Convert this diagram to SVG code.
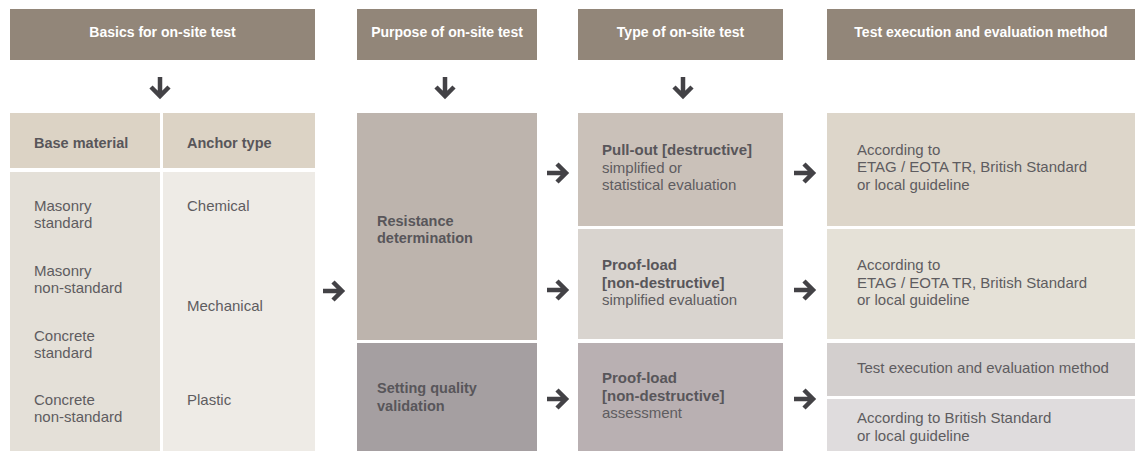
<svg xmlns="http://www.w3.org/2000/svg" width="1135" height="451" viewBox="0 0 1135 451">
<style>
.hd{fill:#928679}
.ht{font-family:"Liberation Sans",Arial,sans-serif;font-size:14px;font-weight:bold;fill:#ffffff;text-anchor:middle}
.b{font-family:"Liberation Sans",Arial,sans-serif;font-size:14.5px;font-weight:bold;fill:#58565a}
.t{font-family:"Liberation Sans",Arial,sans-serif;font-size:15px;fill:#5e5c60}
.tb{font-weight:bold;fill:#58565a}
</style>
<defs>
<path id="ar" d="M-11 0 H8 M-1 -9 L8 0 L-1 9" fill="none" stroke="#434246" stroke-width="4.5" stroke-linejoin="miter"/>
</defs>
<rect width="1135" height="451" fill="#ffffff"/>
<g id="h1"><rect class="hd" x="10" y="9" width="305" height="51"/><text class="ht" x="162.5" y="37">Basics for on-site test</text></g>
<g id="h2"><rect class="hd" x="357" y="9" width="180" height="51"/><text class="ht" x="447" y="37">Purpose of on-site test</text></g>
<g id="h3"><rect class="hd" x="578" y="9" width="205" height="51"/><text class="ht" x="680.5" y="37">Type of on-site test</text></g>
<g id="h4"><rect class="hd" x="827" y="9" width="308" height="51"/><text class="ht" x="981" y="37">Test execution and evaluation method</text></g>
<g id="baseHead"><rect x="10" y="113" width="150" height="55" fill="#dcd3c5"/><text class="b" x="34" y="148">Base material</text></g>
<g id="anchorHead"><rect x="163" y="113" width="152" height="55" fill="#dcd3c5"/><text class="b" x="187" y="148">Anchor type</text></g>
<g id="base"><rect x="10" y="172" width="150" height="279" fill="#e4e0d8"/>
<text class="t" x="34" y="211">Masonry</text><text class="t" x="34" y="228">standard</text>
<text class="t" x="34" y="276">Masonry</text><text class="t" x="34" y="293">non-standard</text>
<text class="t" x="34" y="341">Concrete</text><text class="t" x="34" y="358">standard</text>
<text class="t" x="34" y="405">Concrete</text><text class="t" x="34" y="422">non-standard</text></g>
<g id="anchor"><rect x="163" y="172" width="152" height="279" fill="#eeebe6"/>
<text class="t" x="187" y="211">Chemical</text>
<text class="t" x="187" y="311">Mechanical</text>
<text class="t" x="187" y="405">Plastic</text></g>
<g id="resist"><rect x="357" y="113" width="180" height="227" fill="#bdb4ad"/>
<text class="b" x="377" y="226">Resistance</text><text class="b" x="377" y="243">determination</text></g>
<g id="setting"><rect x="357" y="343" width="180" height="108" fill="#a59fa1"/>
<text class="b" x="377" y="393">Setting quality</text><text class="b" x="377" y="411">validation</text></g>
<g id="pull"><rect x="578" y="113" width="205" height="113" fill="#cac1b9"/>
<text class="t tb" x="602" y="155">Pull-out [destructive]</text><text class="t" x="602" y="173">simplified or</text><text class="t" x="602" y="190">statistical evaluation</text></g>
<g id="proof1"><rect x="578" y="229" width="205" height="110" fill="#d9d4cf"/>
<text class="t tb" x="602" y="270">Proof-load</text><text class="t tb" x="602" y="288">[non-destructive]</text><text class="t" x="602" y="305">simplified evaluation</text></g>
<g id="proof2"><rect x="578" y="343" width="205" height="108" fill="#b9b0b2"/>
<text class="t tb" x="602" y="383">Proof-load</text><text class="t tb" x="602" y="401">[non-destructive]</text><text class="t" x="602" y="418">assessment</text></g>
<g id="ev1"><rect x="827" y="113" width="308" height="113" fill="#ddd6ca"/>
<text class="t" x="857" y="155">According to</text><text class="t" x="857" y="172">ETAG / EOTA TR, British Standard</text><text class="t" x="857" y="190">or local guideline</text></g>
<g id="ev2"><rect x="827" y="229" width="308" height="110" fill="#e5e1d7"/>
<text class="t" x="857" y="270">According to</text><text class="t" x="857" y="288">ETAG / EOTA TR, British Standard</text><text class="t" x="857" y="305">or local guideline</text></g>
<g id="ev3a"><rect x="827" y="343" width="308" height="53" fill="#d3cfce"/>
<text class="t" x="857" y="373">Test execution and evaluation method</text></g>
<g id="ev3b"><rect x="827" y="399" width="308" height="52" fill="#dfdcdd"/>
<text class="t" x="857" y="423">According to British Standard</text><text class="t" x="857" y="441">or local guideline</text></g>
<g id="connectors">
<use href="#ar" transform="translate(160,88) rotate(90)"/>
<use href="#ar" transform="translate(445,88) rotate(90)"/>
<use href="#ar" transform="translate(683,88) rotate(90)"/>
<use href="#ar" transform="translate(334,291)"/>
<use href="#ar" transform="translate(558,173)"/>
<use href="#ar" transform="translate(558,290)"/>
<use href="#ar" transform="translate(558,399)"/>
<use href="#ar" transform="translate(805,173)"/>
<use href="#ar" transform="translate(805,290)"/>
<use href="#ar" transform="translate(805,399)"/>
</g>
</svg>
